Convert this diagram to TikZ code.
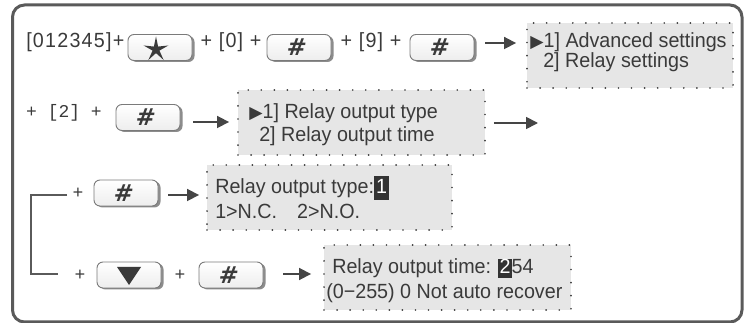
\documentclass[tikz,border=0pt]{standalone}
\usepackage{fontspec}
\setmainfont[FakeStretch=0.96]{Liberation Sans}
\newfontfamily\monof{Liberation Mono}
\newfontfamily\symf{DejaVu Sans}
\newfontfamily\hashf[FakeSlant=0.12]{DejaVu Sans}
\usetikzlibrary{arrows.meta,shapes.geometric,shadows}
\definecolor{txt}{HTML}{3A3A3A}
\definecolor{framec}{HTML}{5A5A5A}
\definecolor{boxfill}{HTML}{E6E6E6}
\definecolor{dotc}{HTML}{3A3A3A}
\definecolor{keyedge}{HTML}{7A7A7A}
\definecolor{keyshadow}{HTML}{8C8C8C}
\definecolor{arrc}{HTML}{454545}
\definecolor{hl}{HTML}{333333}
\newcommand{\tri}{{\symf\fontsize{13}{13}\selectfont ▶}}
\newcommand{\rowsp}{\addfontfeature{LetterSpace=6}}
\begin{document}
\begin{tikzpicture}[x=0.75pt,y=-0.75pt,
  txtstyle/.style={text=txt, inner sep=0pt, font=\fontsize{15.4}{17}\selectfont},
  monostyle/.style={text=txt, inner sep=0pt, font=\monof\fontsize{13.5}{15}\selectfont},
  keybox/.style={rounded corners=4.5pt, minimum width=48pt, minimum height=19.5pt, inner sep=0pt,
    draw=keyedge, line width=0.7pt, top color=white, bottom color=gray!14,
    drop shadow={shadow xshift=1.9pt, shadow yshift=-1.1pt, fill=keyshadow, opacity=1}},
  hashsym/.style={text=txt, inner sep=0pt, font=\hashf\bfseries\fontsize{17.5}{18}\selectfont},
  starsym/.style={star, star points=5, star point ratio=3.6, minimum size=19.5pt, inner sep=0pt, fill=txt},
  menubox/.style={fill=boxfill, draw=dotc, line width=1.4pt, dash pattern=on 0pt off 9.8pt,
    line cap=round, inner sep=0pt, minimum height=48.75pt},
  arr/.style={draw=arrc, line width=1.3pt, -{Triangle[length=9pt,width=9pt]}},
  conn/.style={draw=framec, line width=1pt},
  framebox/.style={draw=framec, line width=2.25pt, rounded corners=9pt}
]
\useasboundingbox (0,0) rectangle (748,323);
\draw[framebox] (12.5,5) rectangle (742,322);

% Row 1
\node[txtstyle, anchor=base west] (t1) at (26,48) {\rowsp [012345]+};
\node[keybox] (k1) at (160,47.5) {};
\node[starsym] (s1) at ([shift={(-4,2)}]k1.center) {};
\node[txtstyle, anchor=base] (t2) at (231,48) {\rowsp + [0] +};
\node[keybox] (k2) at (299,47.5) {};
\node[hashsym] (h2) at ([shift={(-3,0)}]k2.center) {\#};
\node[txtstyle, anchor=base] (t3) at (371,48) {\rowsp + [9] +};
\node[keybox] (k3) at (442,47.5) {};
\node[hashsym] (h3) at ([shift={(-3,0)}]k3.center) {\#};
\node[menubox, minimum width=154.5pt] (m1) at (630,55.5) {};
\node[txtstyle, anchor=base west] (m1a) at (530,48) {\tri1] Advanced settings};
\node[txtstyle, anchor=base west] (m1b) at (543,68) {2] Relay settings};
\draw[arr] ([shift={(11,-4.5)}]k3.east) -- ([shift={(-10,-12.5)}]m1.west);

% Row 2
\node[monostyle, anchor=base] (t4) at (64,118) {+ [2] +};
\node[keybox] (k4) at (148,117.5) {};
\node[hashsym] (h4) at ([shift={(-3,0)}]k4.center) {\#};
\node[menubox, minimum width=185.25pt] (m2) at (361.5,122.5) {};
\node[txtstyle, anchor=base west] (m2a) at (249,119) {\tri1] Relay output type};
\node[txtstyle, anchor=base west] (m2b) at (259,142) {2] Relay output time};
\draw[arr] ([shift={(13,4.5)}]k4.east) -- ([shift={(-8,-0.5)}]m2.west);
\coordinate (c2) at (538,123);
\draw[arr] ([shift={(8,0.5)}]m2.east) -- (c2);

% Row 3
\node[monostyle, anchor=base] (p3) at (78,199) {+};
\node[keybox] (k5) at (126,193) {};
\node[hashsym] (h5) at ([shift={(-3,0)}]k5.center) {\#};
\node[menubox, minimum width=183.75pt] (m3) at (329.5,197.5) {};
\node[txtstyle, anchor=base west] (m3a) at (215,194)
  {Relay output type:{\setlength\fboxsep{1.5pt}\colorbox{hl}{\rule[-3pt]{0pt}{15pt}\textcolor{white}{1}}}};
\node[txtstyle, anchor=base west] (m3b) at (215,219) {1>N.C.\hspace{15pt}2>N.O.};
\draw[arr] ([shift={(10,2)}]k5.east) -- ([shift={(-7,-2.5)}]m3.west);

% Row 4
\node[monostyle, anchor=base] (p4a) at (80,280.5) {+};
\node[keybox] (kd) at (129,275) {};
\fill[txt] ([shift={(-12,-8)}]kd.center) -- ([shift={(12,-8)}]kd.center) -- ([shift={(0,10)}]kd.center) -- cycle;
\node[monostyle, anchor=base] (p4b) at (180,280.5) {+};
\node[keybox] (k6) at (231,275) {};
\node[hashsym] (h6) at ([shift={(-3,0)}]k6.center) {\#};
\node[menubox, minimum width=185.25pt] (m4) at (447.5,277.5) {};
\node[txtstyle, anchor=base west] (m4a) at (332,274)
  {Relay output time: {\setlength\fboxsep{0.8pt}\colorbox{hl}{\rule[-2pt]{0pt}{12.5pt}\textcolor{white}{2}}}54};
\node[txtstyle, anchor=base west] (m4b) at (326,299) {(0−255) 0 Not auto recover};
\draw[arr] ([shift={(20,-1)}]k6.east) -- ([shift={(-12,-3.5)}]m4.west);

% Branch connector
\coordinate (e3) at (67,195);
\coordinate (j) at (31,195);
\coordinate (e4) at (58,274);
\draw[conn] (e3) -- (j) |- (e4);
\end{tikzpicture}
\end{document}
